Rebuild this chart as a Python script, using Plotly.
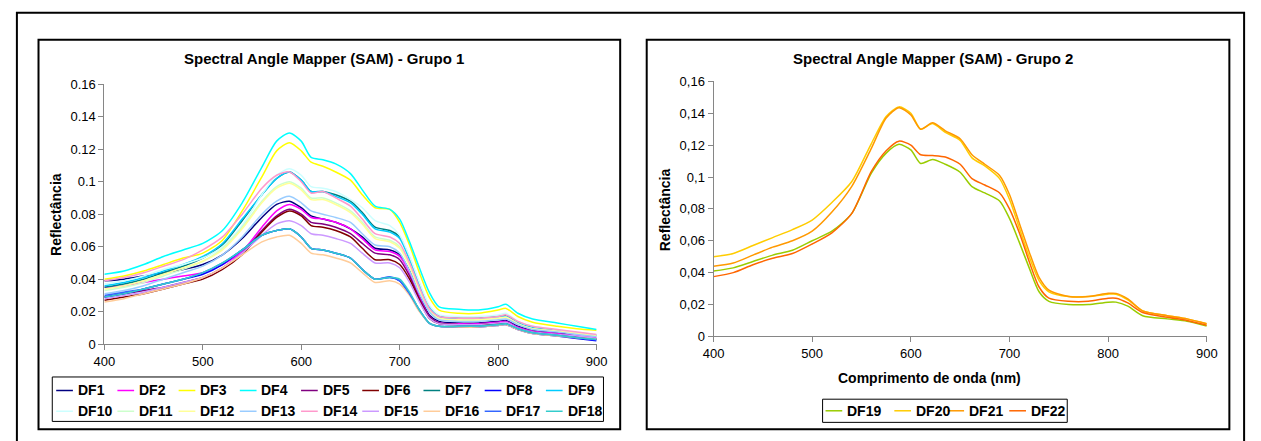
import plotly.graph_objects as go

W, H = 1261, 441

wavelength = [400, 420, 440, 460, 480, 500, 520, 540, 560, 575, 588, 600, 610, 622, 635, 650, 662,
              675, 690, 700, 710, 720, 730, 740, 760, 780, 800, 808, 820, 835, 860, 880, 900]

DF1 = [0.039,0.040,0.042,0.044,0.046,0.049,0.055,0.065,0.078,0.086,0.088,0.084,0.079,0.077,0.075,0.071,0.066,0.059,0.058,0.055,0.045,0.030,0.018,0.014,0.013,0.013,0.014,0.0145,0.011,0.0085,0.007,0.005,0.003]
DF2 = [0.035,0.036,0.038,0.040,0.042,0.044,0.049,0.057,0.072,0.082,0.086,0.083,0.078,0.077,0.075,0.071,0.065,0.058,0.057,0.054,0.044,0.029,0.017,0.013,0.0125,0.0125,0.0135,0.014,0.0105,0.008,0.0065,0.005,0.004]
DF3 = [0.040,0.042,0.045,0.049,0.053,0.056,0.064,0.082,0.103,0.119,0.124,0.119,0.112,0.1095,0.106,0.101,0.092,0.084,0.083,0.075,0.061,0.044,0.029,0.021,0.019,0.019,0.021,0.022,0.017,0.0135,0.011,0.0095,0.0085]
DF4 = [0.043,0.045,0.049,0.054,0.058,0.062,0.070,0.087,0.109,0.125,0.130,0.125,0.115,0.1135,0.111,0.105,0.095,0.085,0.083,0.077,0.063,0.047,0.032,0.023,0.0215,0.021,0.023,0.0245,0.019,0.0155,0.013,0.011,0.009]
DF5 = [0.029,0.031,0.033,0.035,0.038,0.041,0.047,0.056,0.070,0.079,0.083,0.080,0.075,0.074,0.072,0.068,0.062,0.056,0.055,0.052,0.042,0.028,0.017,0.013,0.012,0.012,0.013,0.0135,0.010,0.0075,0.006,0.0045,0.003]
DF6 = [0.027,0.029,0.031,0.034,0.037,0.040,0.046,0.055,0.069,0.078,0.082,0.079,0.073,0.072,0.070,0.066,0.059,0.052,0.052,0.049,0.040,0.027,0.016,0.0125,0.012,0.012,0.0125,0.013,0.0095,0.007,0.0055,0.004,0.003]
DF7 = [0.035,0.037,0.040,0.044,0.048,0.053,0.061,0.076,0.092,0.102,0.106,0.101,0.094,0.094,0.092,0.088,0.081,0.072,0.070,0.066,0.053,0.037,0.023,0.017,0.016,0.016,0.017,0.0175,0.0135,0.0105,0.0085,0.007,0.0055]
DF8 = [0.029,0.031,0.034,0.037,0.040,0.043,0.049,0.058,0.067,0.070,0.071,0.066,0.059,0.058,0.056,0.053,0.046,0.040,0.041,0.039,0.031,0.021,0.013,0.011,0.0105,0.0105,0.0115,0.012,0.009,0.0065,0.005,0.0035,0.002]
DF9 = [0.036,0.038,0.041,0.045,0.049,0.054,0.062,0.077,0.092,0.102,0.106,0.101,0.094,0.094,0.091,0.087,0.080,0.071,0.069,0.065,0.052,0.036,0.023,0.017,0.0155,0.0155,0.0165,0.017,0.013,0.010,0.008,0.0065,0.005]
DF10 = [0.037,0.039,0.042,0.046,0.049,0.053,0.060,0.073,0.092,0.104,0.108,0.104,0.097,0.096,0.094,0.089,0.084,0.076,0.073,0.067,0.054,0.038,0.024,0.018,0.017,0.017,0.018,0.019,0.014,0.011,0.009,0.007,0.006]
DF11 = [0.033,0.035,0.038,0.042,0.046,0.051,0.059,0.072,0.088,0.097,0.100,0.096,0.090,0.090,0.087,0.082,0.075,0.066,0.064,0.060,0.049,0.034,0.021,0.016,0.015,0.015,0.016,0.0165,0.0125,0.0095,0.008,0.0065,0.005]
DF12 = [0.034,0.036,0.039,0.043,0.047,0.051,0.058,0.071,0.087,0.096,0.099,0.095,0.089,0.089,0.086,0.081,0.074,0.065,0.063,0.059,0.048,0.033,0.021,0.016,0.015,0.015,0.016,0.0165,0.0125,0.0095,0.008,0.0065,0.005]
DF13 = [0.031,0.033,0.036,0.040,0.044,0.048,0.055,0.066,0.080,0.088,0.091,0.087,0.082,0.080,0.078,0.075,0.068,0.061,0.060,0.056,0.045,0.031,0.020,0.015,0.014,0.014,0.015,0.0155,0.012,0.009,0.0075,0.006,0.0045]
DF14 = [0.039,0.041,0.044,0.048,0.052,0.058,0.066,0.080,0.096,0.104,0.106,0.100,0.093,0.094,0.090,0.085,0.077,0.068,0.066,0.062,0.050,0.035,0.022,0.017,0.016,0.016,0.017,0.018,0.014,0.011,0.009,0.0075,0.006]
DF15 = [0.028,0.030,0.032,0.035,0.038,0.041,0.047,0.056,0.067,0.074,0.076,0.073,0.068,0.067,0.065,0.062,0.056,0.050,0.050,0.047,0.038,0.026,0.016,0.0125,0.012,0.012,0.013,0.0135,0.010,0.0075,0.006,0.005,0.0035]
DF16 = [0.026,0.028,0.031,0.034,0.037,0.041,0.047,0.055,0.063,0.066,0.067,0.062,0.056,0.055,0.053,0.050,0.044,0.038,0.039,0.037,0.030,0.020,0.013,0.011,0.0105,0.0105,0.0115,0.012,0.009,0.0065,0.005,0.004,0.003]
DF17 = [0.030,0.032,0.034,0.037,0.040,0.044,0.050,0.058,0.067,0.070,0.071,0.066,0.059,0.058,0.056,0.053,0.046,0.040,0.0415,0.039,0.031,0.021,0.013,0.011,0.011,0.011,0.012,0.0125,0.0095,0.007,0.0055,0.004,0.0025]
DF18 = [0.029,0.031,0.034,0.037,0.040,0.044,0.050,0.058,0.067,0.070,0.071,0.066,0.059,0.058,0.056,0.053,0.046,0.040,0.041,0.040,0.032,0.021,0.013,0.011,0.011,0.011,0.012,0.0125,0.0095,0.007,0.0055,0.004,0.003]

DF19 = [0.041,0.043,0.047,0.051,0.054,0.060,0.066,0.077,0.1025,0.115,0.1205,0.117,0.1085,0.111,0.108,0.103,0.094,0.090,0.085,0.074,0.059,0.043,0.028,0.022,0.020,0.020,0.0215,0.0215,0.019,0.013,0.011,0.0095,0.0065]
DF20 = [0.050,0.052,0.057,0.062,0.067,0.073,0.084,0.097,0.121,0.138,0.144,0.140,0.130,0.1335,0.128,0.123,0.112,0.107,0.099,0.086,0.068,0.050,0.035,0.028,0.025,0.025,0.0265,0.0265,0.023,0.016,0.013,0.011,0.008]
DF21 = [0.044,0.046,0.051,0.056,0.060,0.066,0.078,0.094,0.118,0.137,0.1435,0.139,0.130,0.134,0.129,0.124,0.114,0.108,0.101,0.089,0.071,0.053,0.037,0.029,0.025,0.025,0.027,0.027,0.0235,0.016,0.013,0.011,0.008]
DF22 = [0.0375,0.040,0.045,0.049,0.052,0.058,0.065,0.077,0.1035,0.1165,0.1225,0.120,0.114,0.1135,0.1125,0.108,0.099,0.095,0.090,0.080,0.065,0.047,0.031,0.024,0.022,0.022,0.024,0.024,0.021,0.015,0.012,0.010,0.007]

group1_names = ["DF1","DF2","DF3","DF4","DF5","DF6","DF7","DF8","DF9",
                "DF10","DF11","DF12","DF13","DF14","DF15","DF16","DF17","DF18"]
group1_values = [DF1,DF2,DF3,DF4,DF5,DF6,DF7,DF8,DF9,DF10,DF11,DF12,DF13,DF14,DF15,DF16,DF17,DF18]
group1_colors = ["#000080","#FF00FF","#FFFF00","#00FFFF","#800080","#800000","#008080","#0000FF","#00CCFF",
                 "#CCFFFF","#CCFFCC","#FFFF99","#99CCFF","#FF99CC","#CC99FF","#FFCC99","#3366FF","#33CCCC"]

group2_names = ["DF19","DF20","DF21","DF22"]
group2_values = [DF19,DF20,DF21,DF22]
group2_colors = ["#99CC00","#FFCC00","#FF9900","#FF6600"]

y_ticks = [0, 0.02, 0.04, 0.06, 0.08, 0.10, 0.12, 0.14, 0.16]
y_ticktext_g2 = ["0","0,02","0,04","0,06","0,08","0,1","0,12","0,14","0,16"]
x_ticks = [400, 500, 600, 700, 800, 900]

FONT = "Liberation Sans, Arial, sans-serif"

def px(x):
    return x / W

def py(y):
    return 1 - y / H

fig = go.Figure()

for name, vals, col in zip(group1_names, group1_values, group1_colors):
    fig.add_trace(go.Scatter(x=wavelength, y=vals, name=name, mode="lines",
                             line=dict(color=col, width=1.5, shape="spline", smoothing=0.7),
                             xaxis="x", yaxis="y", showlegend=False))
for name, vals, col in zip(group2_names, group2_values, group2_colors):
    fig.add_trace(go.Scatter(x=wavelength, y=vals, name=name, mode="lines",
                             line=dict(color=col, width=1.5, shape="spline", smoothing=0.7),
                             xaxis="x2", yaxis="y2", showlegend=False))

axis_common = dict(showgrid=False, zeroline=False, showline=True, linecolor="#868686", linewidth=1,
                   ticks="outside", ticklen=5, tickcolor="#868686", mirror=False,
                   tickfont=dict(family=FONT, size=13, color="#000000"))

fig.update_layout(
    width=W, height=H, margin=dict(l=0, r=0, t=0, b=0),
    paper_bgcolor="white", plot_bgcolor="white", showlegend=False,
    xaxis=dict(domain=[px(95), px(596)], range=[400, 900], tickvals=x_ticks, anchor="y", **axis_common),
    yaxis=dict(domain=[py(349), py(80)], range=[0, 0.16], tickvals=y_ticks, anchor="x", **axis_common),
    xaxis2=dict(domain=[px(715), px(1217)], range=[400, 900], tickvals=x_ticks, anchor="y2", **axis_common),
    yaxis2=dict(domain=[py(341), py(77)], range=[0, 0.16], tickvals=y_ticks, ticktext=y_ticktext_g2,
                anchor="x2", **axis_common),
)

shapes = []
annotations = []
# frames
shapes.append(dict(type="rect", xref="paper", yref="paper", x0=px(6), x1=px(1255), y0=py(460), y1=py(6),
                   line=dict(color="black", width=2)))
shapes.append(dict(type="rect", xref="paper", yref="paper", x0=px(28), x1=px(620), y0=py(437), y1=py(34),
                   line=dict(color="black", width=2)))
shapes.append(dict(type="rect", xref="paper", yref="paper", x0=px(647), x1=px(1240), y0=py(437), y1=py(34),
                   line=dict(color="black", width=2)))
# legend boxes
shapes.append(dict(type="rect", xref="paper", yref="paper", x0=px(42), x1=px(603), y0=py(429), y1=py(383),
                   line=dict(color="black", width=1)))
shapes.append(dict(type="rect", xref="paper", yref="paper", x0=px(826), x1=px(1075), y0=py(430), y1=py(406),
                   line=dict(color="black", width=1)))

# titles
annotations.append(dict(text="<b>Spectral Angle Mapper (SAM) - Grupo 1</b>", xref="paper", yref="paper",
                        x=px(319), y=py(53), showarrow=False, xanchor="center", yanchor="middle",
                        font=dict(family=FONT, size=15, color="black")))
annotations.append(dict(text="<b>Spectral Angle Mapper (SAM) - Grupo 2</b>", xref="paper", yref="paper",
                        x=px(938), y=py(53), showarrow=False, xanchor="center", yanchor="middle",
                        font=dict(family=FONT, size=15, color="black")))
annotations.append(dict(text="<b>Reflectância</b>", xref="paper", yref="paper", x=px(45), y=py(215),
                        showarrow=False, textangle=-90, xanchor="center", yanchor="middle",
                        font=dict(family=FONT, size=14, color="black")))
annotations.append(dict(text="<b>Reflectância</b>", xref="paper", yref="paper", x=px(665), y=py(210),
                        showarrow=False, textangle=-90, xanchor="center", yanchor="middle",
                        font=dict(family=FONT, size=14, color="black")))
annotations.append(dict(text="<b>Comprimento de onda (nm)</b>", xref="paper", yref="paper", x=px(935), y=py(384),
                        showarrow=False, xanchor="center", yanchor="middle",
                        font=dict(family=FONT, size=14, color="black")))

# manual legends
def legend_item(name, color, x_sw, y_c):
    shapes.append(dict(type="line", xref="paper", yref="paper", x0=px(x_sw), x1=px(x_sw + 17),
                       y0=py(y_c), y1=py(y_c), line=dict(color=color, width=1.5)))
    annotations.append(dict(text="<b>%s</b>" % name, xref="paper", yref="paper", x=px(x_sw + 20), y=py(y_c),
                            showarrow=False, xanchor="left", yanchor="middle",
                            font=dict(family=FONT, size=14, color="black")))

for i, (n, c) in enumerate(zip(group1_names, group1_colors)):
    row, col = divmod(i, 9)
    legend_item(n, c, 46 + 62.3 * col, 397 + 21.5 * row)

g2_x = [829, 899, 953, 1016]
for i, (n, c) in enumerate(zip(group2_names, group2_colors)):
    legend_item(n, c, g2_x[i], 418)

fig.update_layout(shapes=shapes, annotations=annotations)
fig.write_html("out.html")
